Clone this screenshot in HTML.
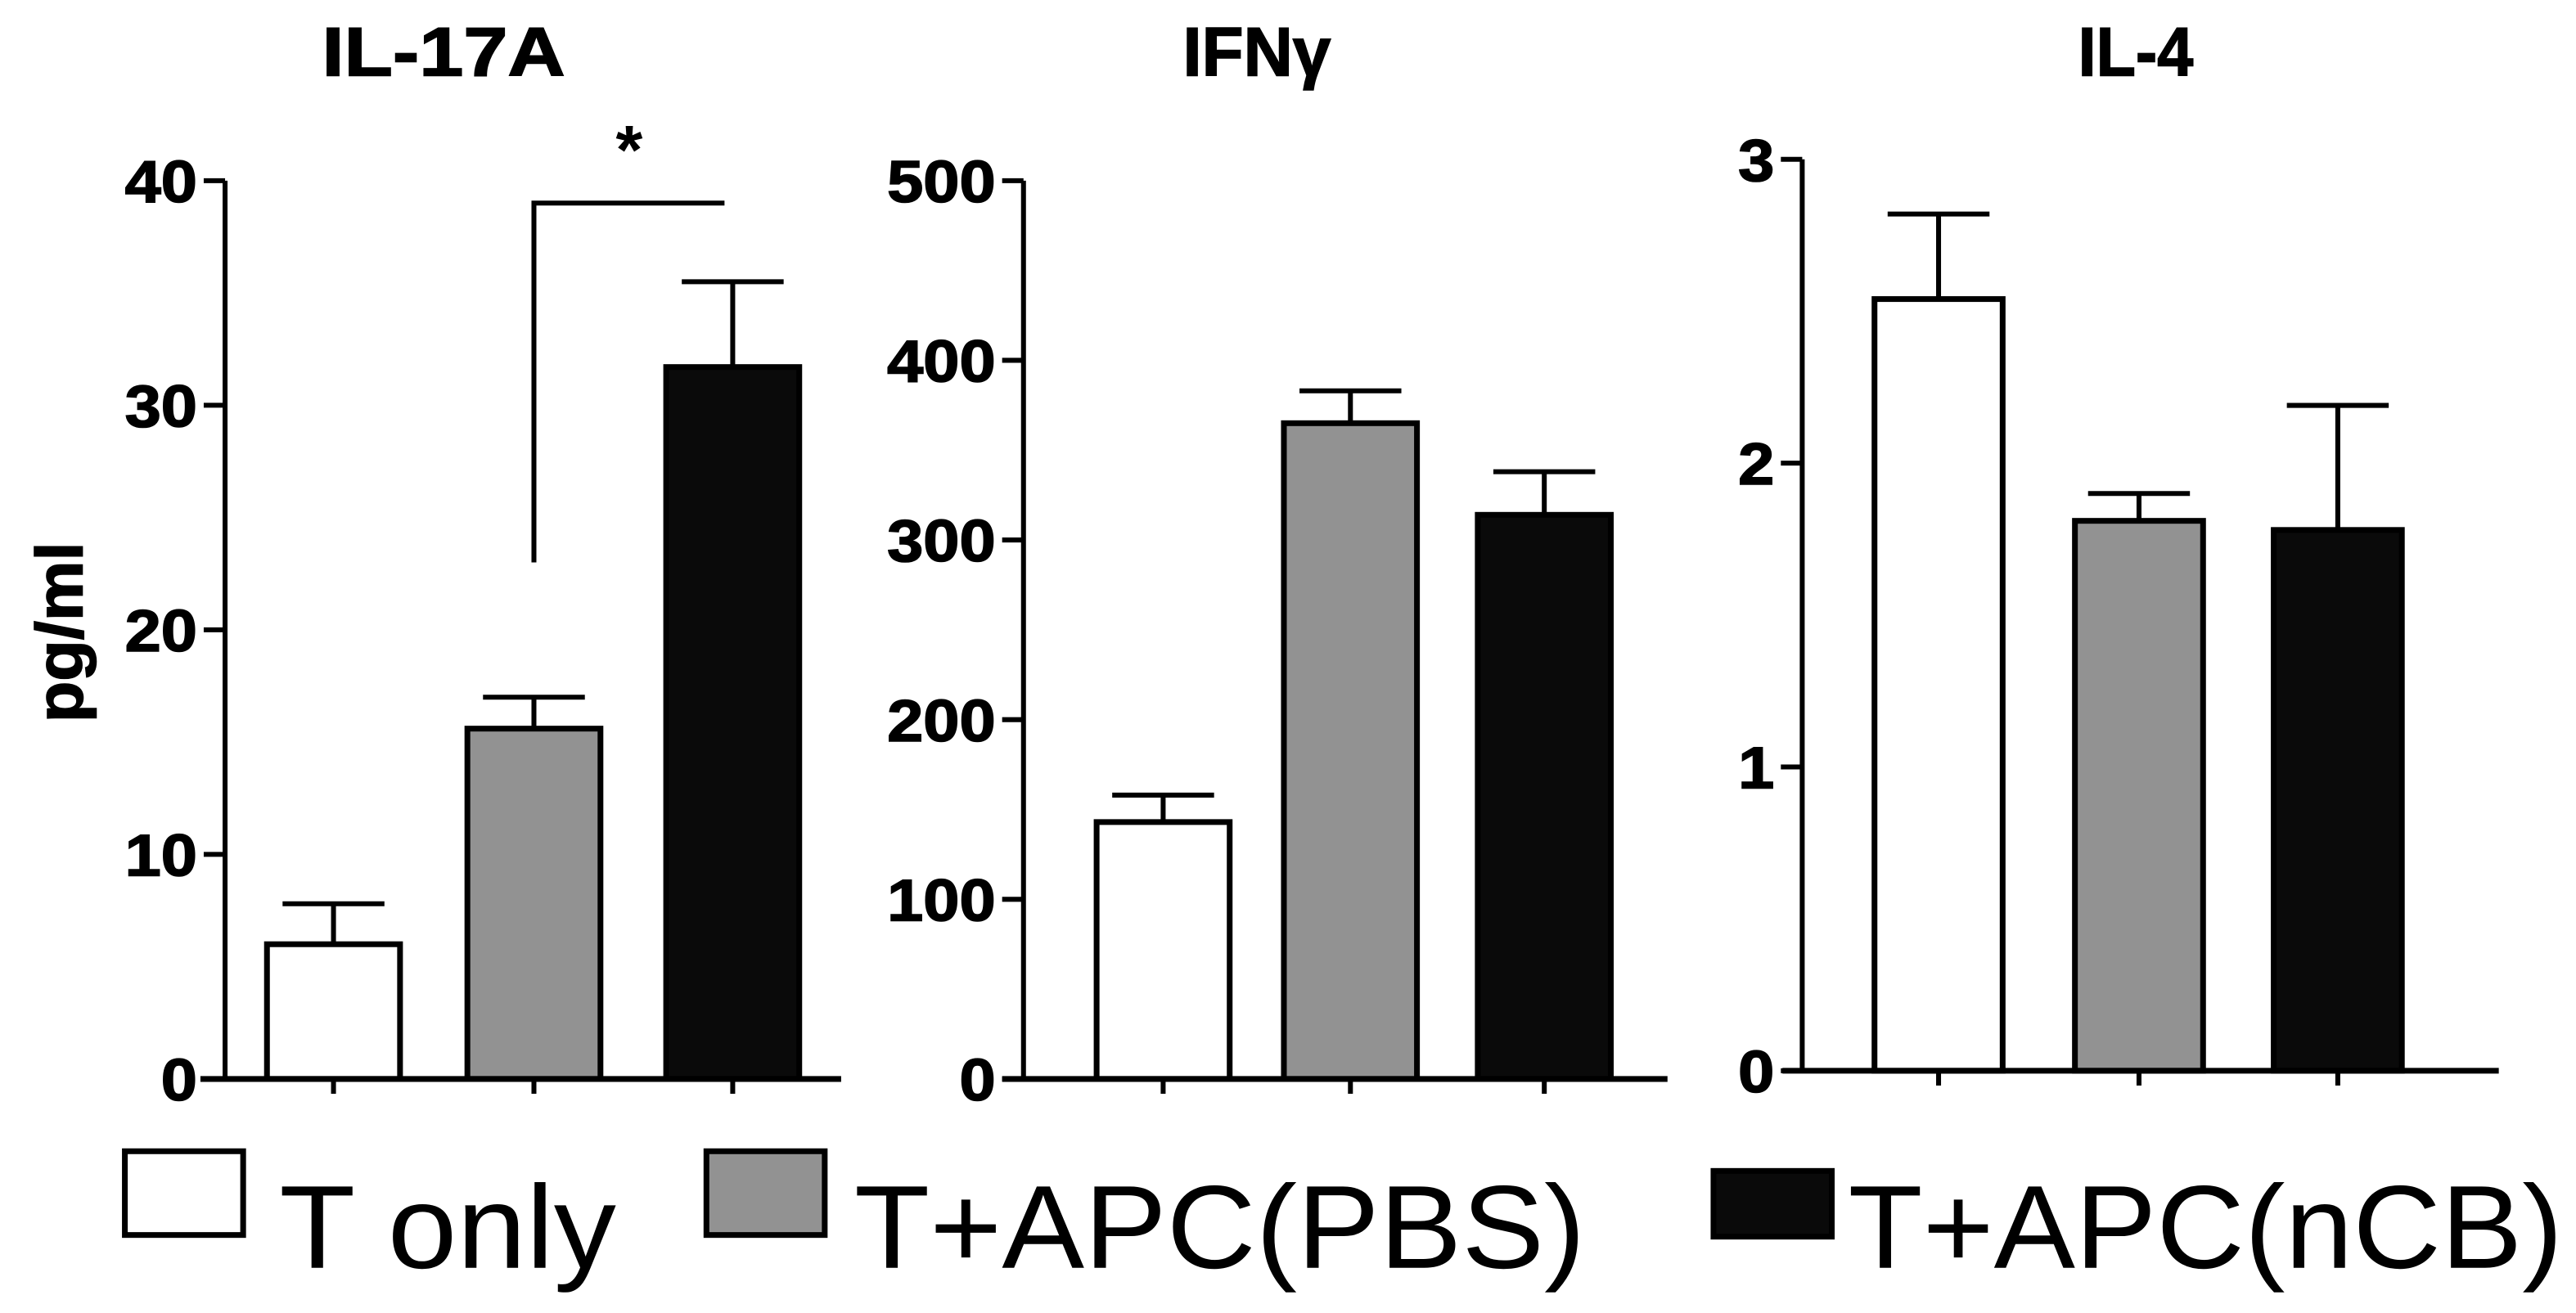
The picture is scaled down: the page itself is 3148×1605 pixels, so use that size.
<!DOCTYPE html>
<html><head><meta charset="utf-8"><style>
html,body{margin:0;padding:0;background:#fff;}
svg{display:block;}
text{font-family:"Liberation Sans",Arial,sans-serif;}
</style></head><body>
<svg id="chart" width="3148" height="1605" viewBox="0 0 1568 799.5" preserveAspectRatio="none" xmlns="http://www.w3.org/2000/svg"></svg>
<script>
const groups = ["T only", "T+APC(PBS)", "T+APC(nCB)"];
const il17Values = [6.0, 15.6, 31.7];
const il17Errors = [1.8, 1.4, 3.8];
const il17Ticks = [0, 10, 20, 30, 40];
const ifnValues = [143, 365, 314];
const ifnErrors = [15, 18, 24];
const ifnTicks = [0, 100, 200, 300, 400, 500];
const il4Values = [2.54, 1.81, 1.78];
const il4Errors = [0.28, 0.09, 0.41];
const il4Ticks = [0, 1, 2, 3];
const titles = ["IL-17A", "IFNγ", "IL-4"];
const sigPair = [1, 2];
const sigBase = 23;
const sigTop = 39;

const svg = document.getElementById('chart');
const NS = 'http://www.w3.org/2000/svg';
function mk(tag, attrs, parent) {
  const e = document.createElementNS(NS, tag);
  for (const k in attrs) e.setAttribute(k, attrs[k]);
  (parent || svg).appendChild(e);
  return e;
}
const fills = ['#ffffff', '#929292', '#0a0a0a'];
const titleW = [148, 90, 70];

const panels = [
  {name:'il17a', vals:il17Values, errs:il17Errors, ticks:il17Ticks, ax:137, y0:657, yTop:110, xl:122, xr:512, xc:[203,325,446], bw:81, tx:270},
  {name:'ifng', vals:ifnValues, errs:ifnErrors, ticks:ifnTicks, ax:623, y0:657, yTop:110, xl:610, xr:1015, xc:[708,822,940], bw:81, tx:765},
  {name:'il4', vals:il4Values, errs:il4Errors, ticks:il4Ticks, ax:1097, y0:652, yTop:97, xl:1085, xr:1521, xc:[1180,1302,1423], bw:78, tx:1300}
];

panels.forEach((p, pi) => {
  const g = mk('g', {});
  
  
  const tmax = p.ticks[p.ticks.length - 1];
  const y = v => p.y0 - (v / tmax) * (p.y0 - p.yTop);
  const t = mk('text', {x:p.tx, y:46, 'font-size':42, 'font-weight':'bold', 'text-anchor':'middle', stroke:'#000', 'stroke-width':0.8, textLength:titleW[pi], lengthAdjust:'spacingAndGlyphs'}, g);
  t.textContent = titles[pi];
  
  
  p.vals.forEach((v, i) => {
    const cx = p.xc[i];
    const eb = mk('path', {d:`M${cx} ${y(v)} V${y(v + p.errs[i])} M${cx - 31} ${y(v + p.errs[i])} H${cx + 31}`, stroke:'#000', 'stroke-width':3, fill:'none'}, g);
    
    
    const r = mk('rect', {x:cx - p.bw / 2, y:y(v), width:p.bw, height:p.y0 - y(v), fill:fills[i], stroke:'#000', 'stroke-width':3.5}, g);
    
    
    const xt = mk('line', {x1:cx, x2:cx, y1:p.y0, y2:p.y0 + 9, stroke:'#000', 'stroke-width':3}, g);
    
    
  });
  const ya = mk('line', {x1:p.ax, x2:p.ax, y1:p.yTop, y2:p.y0, stroke:'#000', 'stroke-width':3}, g);
  
  
  const xa = mk('line', {x1:p.xl, x2:p.xr, y1:p.y0, y2:p.y0, stroke:'#000', 'stroke-width':3.5}, g);
  
  
  p.ticks.forEach(tv => {
    const tk = mk('line', {x1:p.ax - 13, x2:p.ax, y1:y(tv), y2:y(tv), stroke:'#000', 'stroke-width':3}, g);
    
    
    const s = String(tv);
    const tl = mk('text', {x:p.ax - 17, y:y(tv) + 13, 'font-size':36, 'font-weight':'bold', 'text-anchor':'end', stroke:'#000', 'stroke-width':0.8, textLength:s.length * 22, lengthAdjust:'spacingAndGlyphs'}, g);
    tl.textContent = s;
    
    
  });
  if (pi === 0) {
    const xa0 = p.xc[sigPair[0]], xb0 = p.xc[sigPair[1]] - 5;
    const br = mk('path', {d:`M${xa0} ${y(sigBase)} V${y(sigTop)} H${xb0}`, stroke:'#000', 'stroke-width':3, fill:'none'}, g);
    
    
    const st = mk('text', {x:(xa0 + xb0) / 2, y:y(sigTop) - 18, 'font-size':42, 'font-weight':'bold', 'text-anchor':'middle'}, g);
    st.textContent = '*';
    
    
    const yl = mk('text', {x:0, y:0, 'font-size':40, 'font-weight':'bold', 'text-anchor':'middle', stroke:'#000', 'stroke-width':0.8, textLength:110, lengthAdjust:'spacingAndGlyphs', transform:'translate(50 385) rotate(-90)'}, g);
    yl.textContent = 'pg/ml';
    
    
  }
});

const legBoxes = [[76,701,72,51],[430,701,72,51],[1043,713,72,40]];
const legX = [170, 520, 1125];
const legW = [205, 445, 435];
groups.forEach((gname, i) => {
  const g = mk('g', {});
  
  
  const b = legBoxes[i];
  const r = mk('rect', {x:b[0], y:b[1], width:b[2], height:b[3], fill:fills[i], stroke:'#000', 'stroke-width':3.5}, g);
  
  
  const t = mk('text', {x:legX[i], y:772, 'font-size':72, textLength:legW[i], lengthAdjust:'spacingAndGlyphs'}, g);
  t.textContent = gname;
  
  
});
</script>
</body></html>
